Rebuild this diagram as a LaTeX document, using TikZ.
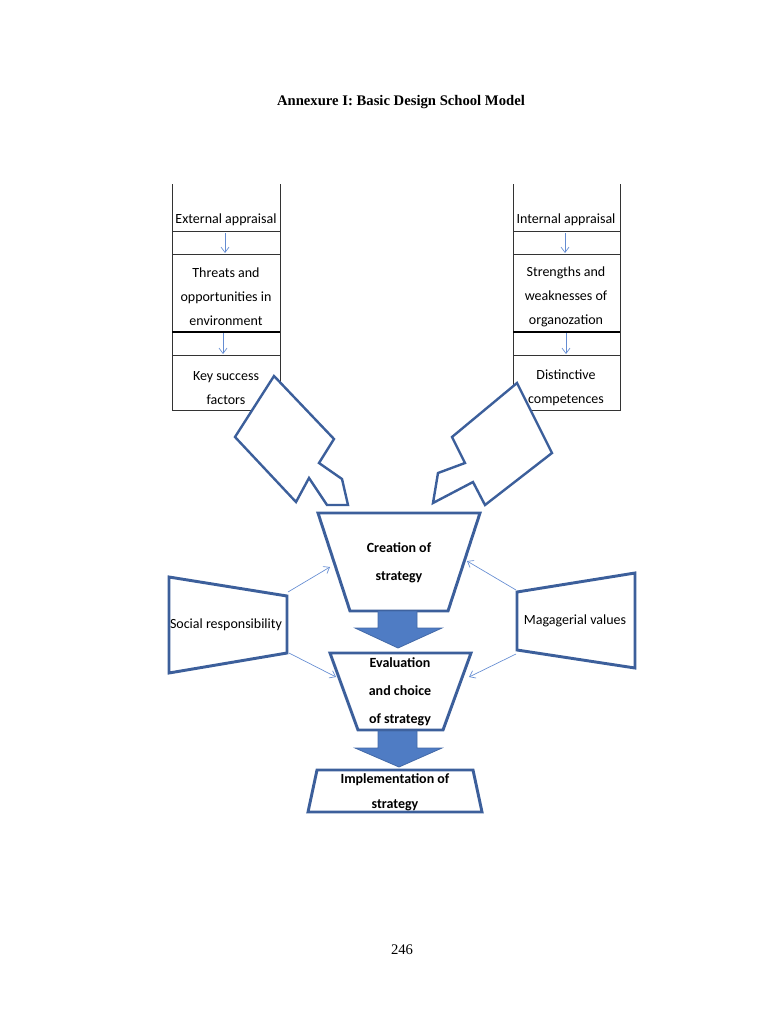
\documentclass[tikz,border=0pt]{standalone}
\usepackage{fontspec}
\setmainfont{Carlito}
\newfontfamily\tms{Liberation Serif}
\usetikzlibrary{arrows.meta}
\definecolor{dblue}{RGB}{60,95,155}
\definecolor{fblue}{RGB}{79,124,196}
\definecolor{lblue}{RGB}{100,140,210}
\begin{document}
\begin{tikzpicture}[x=0.75pt,y=-0.75pt,
  shp/.style={draw=dblue,line width=2.2pt,line join=miter,fill=white},
  big/.style={fill=fblue,draw=fblue!85!black,line width=0.6pt},
  thin/.style={draw=lblue,line width=0.5pt,-{Straight Barb[length=4pt,width=6pt]}},
  txt/.style={align=center,font=\fontsize{10.5}{18}\selectfont,inner sep=0pt},
  tab/.style={draw=black!80,line width=0.6pt}]
\useasboundingbox (0,0) rectangle (768,1024);
\node[font=\tms\bfseries\fontsize{11}{13}\selectfont] (title) at (401,102) {Annexure I: Basic Design School Model};
\node[font=\tms\fontsize{11}{13}\selectfont] (pg) at (402,950) {246};
% tables
\foreach \a/\b in {172/280,513/620}{
 \draw[tab] (\a,184) -- (\a,410) -- (\b,410) -- (\b,184);
 \draw[tab] (\a,231) -- (\b,231) (\a,254) -- (\b,254) (\a,355) -- (\b,355);
 \draw[black,line width=1.5pt] (\a,332) -- (\b,332);
}
\node[txt] (ea) at (226,220) {External appraisal};
\node[txt] (to) at (226,297) {Threats and\\opportunities in\\environment};
\node[txt] (ks) at (226,388) {Key success\\factors};
\node[txt] (ia) at (566,220) {Internal appraisal};
\node[txt] (sw) at (566,297) {Strengths and\\weaknesses of\\organozation};
\node[txt] (dc) at (566,388) {Distinctive\\competences};
\coordinate (a1) at (225,233); \coordinate (a2) at (225,253);
\coordinate (a3) at (223,333); \coordinate (a4) at (223,354);
\coordinate (b1) at (565,233); \coordinate (b2) at (565,253);
\coordinate (b3) at (566,333); \coordinate (b4) at (566,354);
\foreach \p/\q in {a1/a2,a3/a4,b1/b2,b3/b4} \draw[thin] (\p) -- (\q);
% block arrows
\draw[shp,line width=1.8pt] (274,376) -- (334,439) -- (319,463) -- (342,479) -- (348,505) -- (327,505) -- (309,478) -- (296,502) -- (235,437) -- cycle;
\draw[shp,line width=1.8pt] (517,383) -- (552,453) -- (485,505) -- (473,482) -- (433,503) -- (438,473) -- (465,463) -- (452,437) -- cycle;
% center shapes
\draw[shp] (318,513) -- (480,513) -- (448,611) -- (350,611) -- cycle;
\node[txt,font=\bfseries\fontsize{10.5}{21}\selectfont] (cs) at (399,563) {Creation of\\strategy};
\draw[big] (378,611) -- (417,611) -- (417,628) -- (442,628) -- (398,648) -- (355,628) -- (378,628) -- cycle;
\draw[shp] (330,653) -- (471,653) -- (443,730) -- (358,730) -- cycle;
\node[txt,font=\bfseries\fontsize{10.5}{21}\selectfont] (ev) at (400,692) {Evaluation\\and choice\\of strategy};
\draw[big] (378,731) -- (417,731) -- (417,748) -- (442,748) -- (399,767) -- (355,748) -- (378,748) -- cycle;
\draw[shp] (317,770) -- (473,770) -- (482,812) -- (308,812) -- cycle;
\node[txt,font=\bfseries\fontsize{10.5}{19}\selectfont] (im) at (395,792) {Implementation of\\strategy};
% side shapes
\draw[shp] (169,577) -- (287,596) -- (287,653) -- (169,673) -- cycle;
\node[txt] (sr) at (226,625) {Social responsibility};
\draw[shp] (517,592) -- (635,573) -- (635,668) -- (517,650) -- cycle;
\node[txt] (mv) at (575,621) {Magagerial values};
\coordinate (s1) at (288,592); \coordinate (s2) at (330,567);
\coordinate (s3) at (289,653); \coordinate (s4) at (336,677);
\coordinate (m1) at (516,590); \coordinate (m2) at (467,561);
\coordinate (m3) at (516,654); \coordinate (m4) at (469,677);
\foreach \p/\q in {s1/s2,s3/s4,m1/m2,m3/m4} \draw[thin] (\p) -- (\q);
\end{tikzpicture}
\end{document}
